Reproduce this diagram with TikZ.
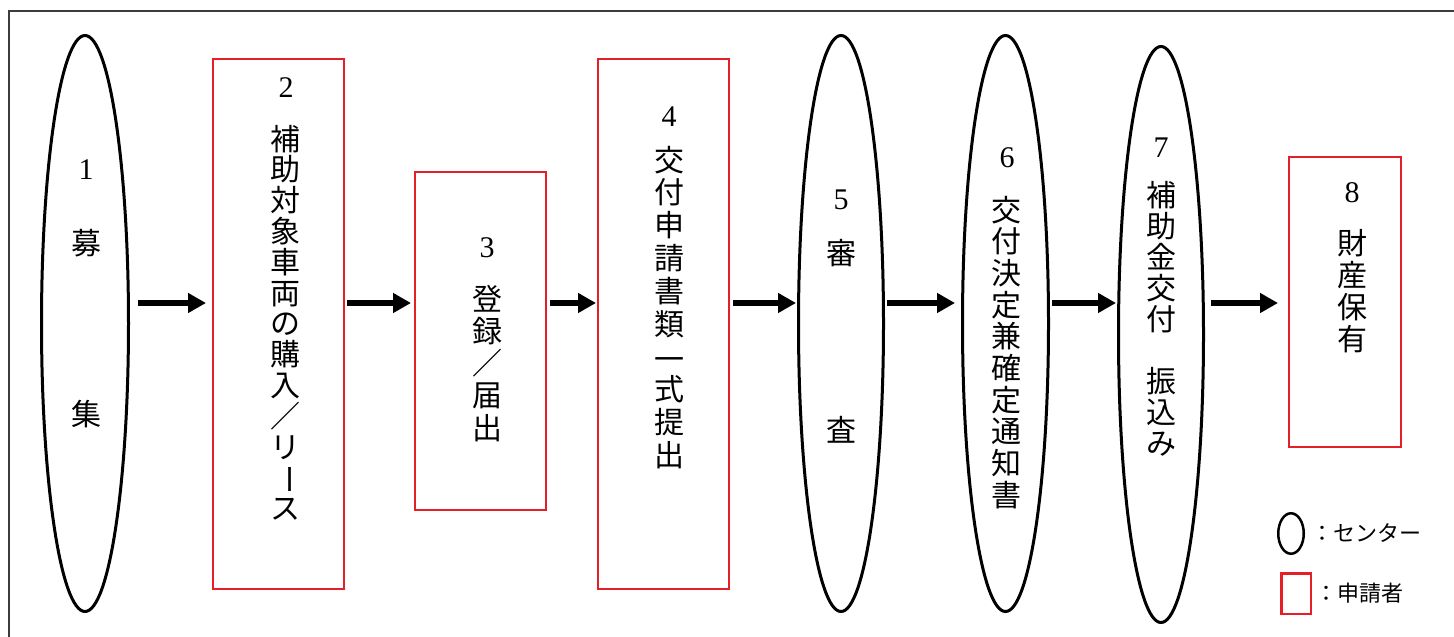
\documentclass[tikz,border=0pt]{standalone}
\usepackage{fontspec}
\setmainfont{Liberation Serif}
\newfontfamily\jpf{Noto Sans CJK JP}
\usetikzlibrary{shapes.geometric,arrows.meta}
\definecolor{appred}{RGB}{230,30,40}
\definecolor{framegray}{RGB}{60,60,60}
\tikzset{
  center/.style={ellipse,draw=black,line width=3pt,inner sep=0pt,outer sep=0pt},
  applicant/.style={rectangle,draw=appred,line width=2pt,inner sep=0pt,outer sep=0pt},
  jpch/.style={font=\jpf\fontsize{30}{30}\selectfont,inner sep=0pt,text height=26pt,text depth=4pt},
  num/.style={font=\fontsize{30}{30}\selectfont,inner sep=0pt},
  legtext/.style={font=\jpf\fontsize{22}{22}\selectfont,inner sep=0pt,anchor=west},
  flow/.style={line width=6pt,-{Triangle[length=18pt 0 0,width=19pt 0 0]}},
}
\newcommand\vstackjp[5]{%
  \foreach \c [count=\i from 0] in {#5} {\node[jpch] (#1-\i) at (#2,{-#3-#4*\i}) {\c};}}
\begin{document}
\begin{tikzpicture}[x=1pt,y=1pt]
\useasboundingbox (0,0) rectangle (1454,-637);
% frame
\draw[framegray,line width=2pt] (1470,-10.5) -- (8.5,-10.5) -- (8.5,-660);
% shapes
\node[center,minimum width=87pt,minimum height=576pt] (e1) at (85,-323.5) {};
\node[applicant,minimum width=131pt,minimum height=530pt] (r2) at (278.5,-324) {};
\node[applicant,minimum width=131pt,minimum height=338pt] (r3) at (480.5,-341) {};
\node[applicant,minimum width=131pt,minimum height=530pt] (r4) at (663.5,-324) {};
\node[center,minimum width=85pt,minimum height=576pt] (e5) at (841,-323.5) {};
\node[center,minimum width=86pt,minimum height=576pt] (e6) at (1005.5,-323.5) {};
\node[center,minimum width=85pt,minimum height=576pt] (e7) at (1161,-334.5) {};
\node[applicant,minimum width=112pt,minimum height=290pt] (r8) at (1345,-302) {};
% arrows
\coordinate (ay) at (0,-303);
\draw[flow,shorten <=9.5pt,shorten >=7pt] (e1.east |- ay) -- (r2.west |- ay);
\draw[flow,shorten <=3pt,shorten >=4pt] (r2.east |- ay) -- (r3.west |- ay);
\draw[flow,shorten <=4pt,shorten >=2pt] (r3.east |- ay) -- (r4.west |- ay);
\draw[flow,shorten <=4pt,shorten >=2.5pt] (r4.east |- ay) -- (e5.west |- ay);
\draw[flow,shorten <=3.5pt,shorten >=7.5pt] (e5.east |- ay) -- (e6.west |- ay);
\draw[flow,shorten <=3.5pt,shorten >=2.5pt] (e6.east |- ay) -- (e7.west |- ay);
\draw[flow,shorten <=7.5pt,shorten >=11pt] (e7.east |- ay) -- (r8.west |- ay);
% texts
\node[num] (n1) at (86,-170) {1};
\node[jpch] (t1a) at (86,-243) {募};
\node[jpch] (t1b) at (86,-414) {集};
\node[num] (n2) at (286,-88) {2};
\vstackjp{t2}{285}{139}{30.8}{補,助,対,象,車,両,の,購,入,／,リ,{\raisebox{3pt}{\rotatebox[origin=c]{-90}{ー}}},ス}
\node[num] (n3) at (487,-248) {3};
\vstackjp{t3}{487}{299}{32.3}{登,録,／,届,出}
\node[num] (n4) at (669,-117) {4};
\vstackjp{t4}{669}{160}{32.8}{交,付,申,請,書,類,{\raisebox{-3pt}{一}},式,提,出}
\node[num] (n5) at (841,-200) {5};
\node[jpch] (t5a) at (841,-253) {審};
\node[jpch] (t5b) at (841,-430) {査};
\node[num] (n6) at (1007,-158) {6};
\vstackjp{t6}{1006}{210}{31.7}{交,付,決,定,兼,確,定,通,知,書}
\node[num] (n7) at (1161,-148) {7};
\vstackjp{t7}{1161}{195}{31}{補,助,金,交,付}
\vstackjp{t7b}{1161}{381}{31}{振,込,み}
\node[num] (n8) at (1352,-193) {8};
\vstackjp{t8}{1352}{243}{32}{財,産,保,有}
% legend
\node[center,line width=2.5pt,minimum width=25.5pt,minimum height=40.5pt] (le) at (1291,-533.5) {};
\node[legtext] (lt1) at (1311,-533) {：センター};
\node[applicant,line width=2.5pt,minimum width=29.5pt,minimum height=40.5pt] (lr) at (1296,-593.5) {};
\node[legtext] (lt2) at (1315,-593) {：申請者};
\end{tikzpicture}
\end{document}
